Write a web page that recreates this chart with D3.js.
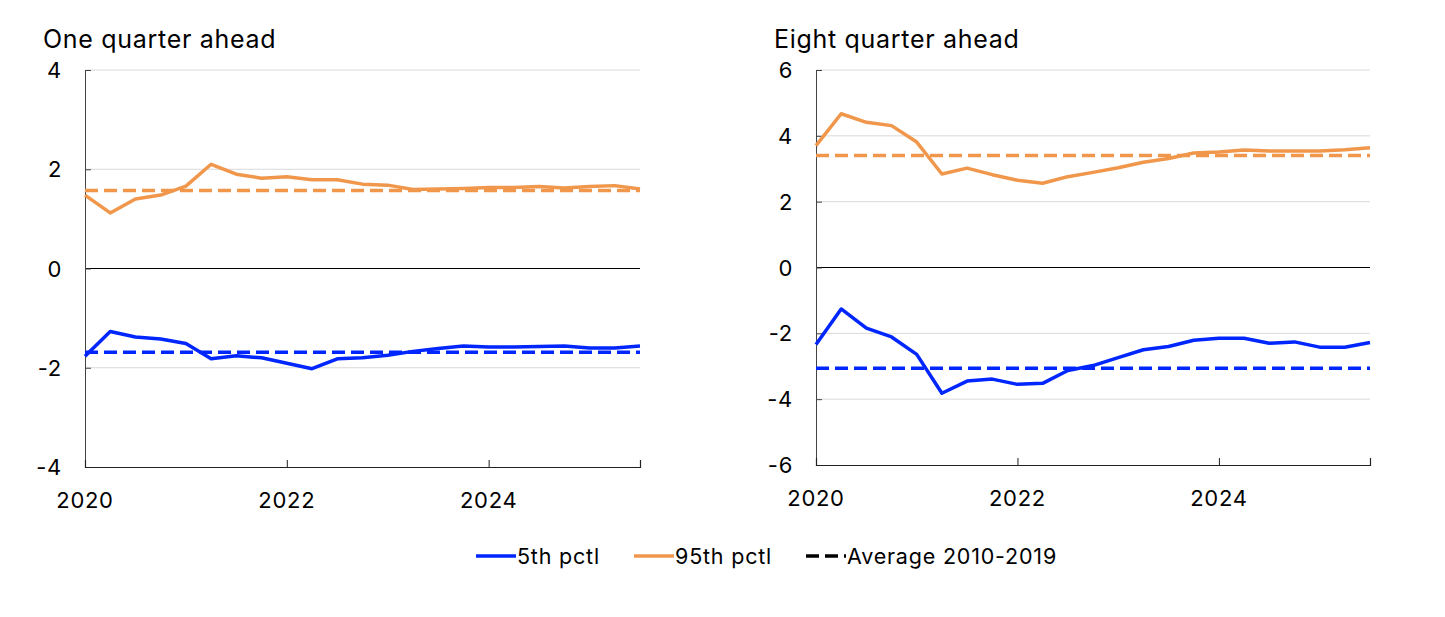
<!DOCTYPE html>
<html>
<head>
<meta charset="utf-8">
<script src="https://cdn.jsdelivr.net/npm/d3@7"></script>
<style>
  body { margin: 0; background: #fff; }
  svg text { font-family: Inter, "Noto Sans", sans-serif; fill: #000; }
</style>
</head>
<body>
<svg id="chart" width="1445" height="617"></svg>
<script>
// ─── Data ────────────────────────────────────────────────────────────────
const quarters = [
  "2020Q1","2020Q2","2020Q3","2020Q4","2021Q1","2021Q2","2021Q3","2021Q4",
  "2022Q1","2022Q2","2022Q3","2022Q4","2023Q1","2023Q2","2023Q3","2023Q4",
  "2024Q1","2024Q2","2024Q3","2024Q4","2025Q1","2025Q2","2025Q3"
];

// One quarter ahead
const oneQ_p5  = [-1.77,-1.27,-1.38,-1.42,-1.51,-1.82,-1.76,-1.80,-1.91,-2.02,-1.82,-1.80,
                  -1.75,-1.67,-1.61,-1.56,-1.58,-1.58,-1.57,-1.56,-1.60,-1.60,-1.56];
const oneQ_p95 = [1.48,1.12,1.40,1.48,1.66,2.10,1.90,1.82,1.85,1.79,1.79,1.70,
                  1.68,1.59,1.60,1.61,1.63,1.63,1.65,1.62,1.65,1.67,1.60];
const oneQ_avg5  = -1.69;
const oneQ_avg95 = 1.57;

// Eight quarter ahead
const eightQ_p5  = [-2.34,-1.26,-1.84,-2.11,-2.64,-3.82,-3.45,-3.39,-3.55,-3.52,-3.13,-2.98,
                    -2.74,-2.50,-2.40,-2.21,-2.15,-2.15,-2.30,-2.26,-2.42,-2.42,-2.28];
const eightQ_p95 = [3.70,4.67,4.41,4.31,3.81,2.84,3.02,2.82,2.65,2.56,2.76,2.89,
                    3.03,3.20,3.31,3.48,3.51,3.57,3.54,3.54,3.54,3.58,3.64];
const eightQ_avg5  = -3.06;
const eightQ_avg95 = 3.40;

const xTickYears = [2020, 2022, 2024];
const oneQ_yTicks   = [-4, -2, 0, 2, 4];
const eightQ_yTicks = [-6, -4, -2, 0, 2, 4, 6];

const legendItems = ["5th pctl", "95th pctl", "Average 2010-2019"];

// ─── Styles ──────────────────────────────────────────────────────────────
const BLUE   = "#0026ff";
const ORANGE = "#f0974c";
const DASH   = "13,6";
const LW     = 3.5;

const svg = d3.select("#chart");

const qToYear = q => +q.slice(0, 4) + (+q.slice(5) - 1) / 4;

function panel(opts) {
  const { left, right, top, bottom, title, yTicks, p5, p95, avg5, avg95 } = opts;

  const x = d3.scaleLinear().domain([2020, 2025.5]).range([left, right]);
  const y = d3.scaleLinear().domain(d3.extent(yTicks)).range([bottom, top]);

  const g = svg.append("g");

  // gridlines
  g.selectAll(".grid")
    .data(yTicks.filter(t => t !== 0 && t !== yTicks[0]))
    .join("line")
      .attr("x1", left).attr("x2", right)
      .attr("y1", d => y(d)).attr("y2", d => y(d))
      .attr("stroke", "#d9d9d9").attr("stroke-width", 1);

  // zero line
  g.append("line")
    .attr("x1", left).attr("x2", right)
    .attr("y1", y(0)).attr("y2", y(0))
    .attr("stroke", "#000").attr("stroke-width", 1);

  // y axis (ticks inward)
  const yAx = g.append("g")
    .attr("transform", `translate(${left},0)`)
    .call(d3.axisRight(y).tickValues(yTicks).tickSize(6).tickFormat(""));
  yAx.select(".domain").attr("stroke", "#444");
  yAx.selectAll(".tick line").attr("stroke", "#444");

  g.selectAll(".ylab")
    .data(yTicks)
    .join("text")
      .attr("x", left - 23)
      .attr("y", d => y(d) + 8)
      .attr("text-anchor", "end")
      .attr("font-size", 22)
      .attr("letter-spacing", 0.7)
      .text(d => d);

  // x axis (ticks inward)
  const xAx = g.append("g")
    .attr("transform", `translate(0,${bottom})`)
    .call(d3.axisTop(x).tickValues(xTickYears).tickSize(7).tickFormat(""));
  xAx.select(".domain").attr("stroke", "#222").attr("stroke-width", 1.2);
  xAx.selectAll(".tick line").attr("stroke", "#222");

  g.selectAll(".xlab")
    .data(xTickYears)
    .join("text")
      .attr("x", d => x(d))
      .attr("y", bottom + 41)
      .attr("text-anchor", "middle")
      .attr("font-size", 22)
      .attr("letter-spacing", 0.7)
      .text(d => d);

  // title
  g.append("text")
    .attr("x", left - 42)
    .attr("y", top - 22)
    .attr("font-size", 25)
    .attr("letter-spacing", 0.7)
    .text(title);

  // average lines
  [[avg5, BLUE], [avg95, ORANGE]].forEach(([v, c]) => {
    g.append("line")
      .attr("x1", left).attr("x2", right)
      .attr("y1", y(v)).attr("y2", y(v))
      .attr("stroke", c).attr("stroke-width", LW)
      .attr("stroke-dasharray", DASH);
  });

  // series lines
  const line = d3.line()
    .x((d, i) => x(qToYear(quarters[i])))
    .y(d => y(d));

  [[p5, BLUE], [p95, ORANGE]].forEach(([vals, c]) => {
    g.append("path")
      .datum(vals)
      .attr("d", line)
      .attr("fill", "none")
      .attr("stroke", c)
      .attr("stroke-width", LW)
      .attr("stroke-linejoin", "round");
  });
}

panel({ left: 85, right: 640, top: 70, bottom: 467, title: "One quarter ahead",
        yTicks: oneQ_yTicks, p5: oneQ_p5, p95: oneQ_p95, avg5: oneQ_avg5, avg95: oneQ_avg95 });

panel({ left: 816, right: 1370, top: 70, bottom: 465, title: "Eight quarter ahead",
        yTicks: eightQ_yTicks, p5: eightQ_p5, p95: eightQ_p95, avg5: eightQ_avg5, avg95: eightQ_avg95 });

// ─── Legend ──────────────────────────────────────────────────────────────
const legendX = [476, 634, 806];
const legendColors = [BLUE, ORANGE, "#000"];
const legendDash = [null, null, DASH];
const lg = svg.append("g").attr("transform", "translate(0,556)");

legendItems.forEach((label, i) => {
  lg.append("line")
    .attr("x1", legendX[i]).attr("x2", legendX[i] + 40)
    .attr("y1", 0).attr("y2", 0)
    .attr("stroke", legendColors[i]).attr("stroke-width", LW)
    .attr("stroke-dasharray", legendDash[i]);
  lg.append("text")
    .attr("x", legendX[i] + 41)
    .attr("y", 8)
    .attr("font-size", 21.5)
    .attr("letter-spacing", 0.8)
    .text(label);
});
</script>
</body>
</html>
